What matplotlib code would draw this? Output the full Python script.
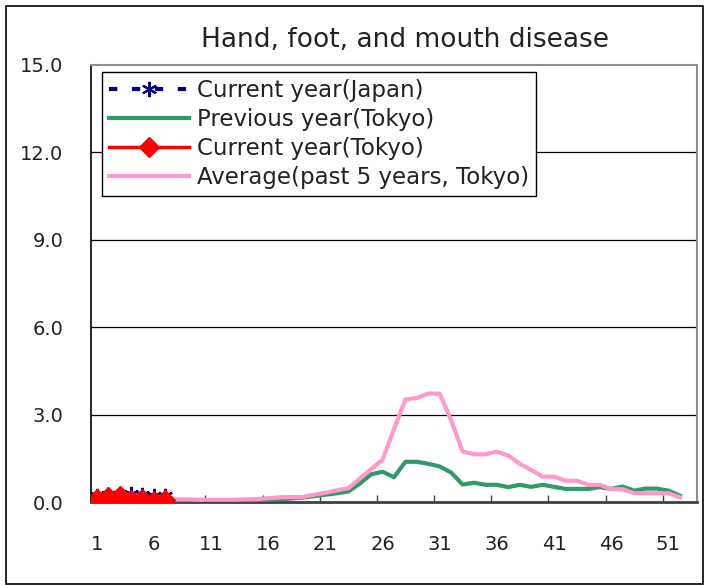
import matplotlib
matplotlib.use('Agg')
import matplotlib.pyplot as plt
from matplotlib.patches import Rectangle
import numpy as np

# weekly values (per sentinel)
weeks_all = list(range(1, 54))
tick_weeks = [1, 6, 11, 16, 21, 26, 31, 36, 41, 46, 51]

cur_japan = [0.20, 0.23, 0.25, 0.26, 0.25, 0.22, 0.20]
cur_tokyo = [0.09, 0.16, 0.21, 0.07, 0.09, 0.04, 0.07]
prev_tokyo = [0.02, 0.02, 0.02, 0.02, 0.01, 0.01, 0.01, 0.00, 0.00, 0.02,
              0.03, 0.03, 0.00, 0.02, 0.04, 0.07, 0.09, 0.12, 0.15, 0.20,
              0.25, 0.30, 0.36, 0.63, 0.95, 1.04, 0.85, 1.38, 1.38, 1.31,
              1.22, 1.01, 0.60, 0.66, 0.59, 0.59, 0.51, 0.59, 0.52, 0.59,
              0.52, 0.45, 0.45, 0.45, 0.51, 0.45, 0.53, 0.39, 0.46, 0.46,
              0.39, 0.22]
avg_tokyo = [0.10, 0.10, 0.10, 0.10, 0.10, 0.09, 0.09, 0.09, 0.09, 0.08,
             0.08, 0.08, 0.08, 0.09, 0.10, 0.13, 0.16, 0.17, 0.17, 0.25,
             0.32, 0.40, 0.47, 0.80, 1.13, 1.45, 2.50, 3.52, 3.57, 3.72,
             3.72, 2.80, 1.73, 1.64, 1.64, 1.73, 1.59, 1.31, 1.10, 0.87,
             0.87, 0.73, 0.73, 0.59, 0.59, 0.44, 0.44, 0.30, 0.30, 0.30,
             0.30, 0.16]

y_ticks = [0, 3, 6, 9, 12, 15]

NAVY = '#000080'
GREEN = '#339966'
RED = '#FF0000'
PINK = '#FF99CC'

fig = plt.figure(figsize=(7.04, 5.85), dpi=100)
ax = fig.add_axes([91/704, 1 - 502/585, (697 - 91)/704, (502 - 65)/585])

# outer chart border
fig.patches.append(Rectangle((6/704, 1/585), 697/704, 578/585, transform=fig.transFigure,
                             fill=False, edgecolor='black', linewidth=1.2))

x_prev = np.arange(1, len(prev_tokyo) + 1)
x_avg = np.arange(1, len(avg_tokyo) + 1)
x_cur = np.arange(1, len(cur_tokyo) + 1)

ax.plot(x_prev, prev_tokyo, color=GREEN, lw=3, zorder=3, label='Previous year(Tokyo)')
ax.plot(x_avg, avg_tokyo, color=PINK, lw=3, zorder=4, label='Average(past 5 years, Tokyo)')
ax.plot(x_cur, cur_japan, color=NAVY, lw=3, ls=(0, (2.0, 3.5)), marker=(6, 2, 0),
        markersize=11, markeredgewidth=1.5, zorder=5, label='Current year(Japan)')
ax.plot(x_cur, cur_tokyo, color=RED, lw=2.5, marker='D', markersize=10, zorder=6,
        label='Current year(Tokyo)')

ax.set_xlim(0.5, 53.5)
ax.set_ylim(0, 15)

# horizontal gridlines
for v in y_ticks[1:-1]:
    ax.axhline(v, color='black', lw=0.9, zorder=1)

ax.set_yticks(y_ticks)
ax.set_yticklabels([f'{v:.1f}' for v in y_ticks])
ax.tick_params(axis='y', length=0, pad=20, labelsize=14, labelcolor='#222222')

ax.set_xticks(tick_weeks)
ax.set_xticklabels([str(w) for w in tick_weeks])
ax.tick_params(axis='x', which='major', length=0, pad=24, labelsize=14, labelcolor='#222222')
ax.set_xticks(np.arange(5.5, 53, 5), minor=True)
ax.tick_params(axis='x', which='minor', direction='in', length=5, width=1, color='#404040')

ax.spines['left'].set_color('black')
ax.spines['left'].set_linewidth(1.2)
ax.spines['bottom'].set_color('#404040')
ax.spines['bottom'].set_linewidth(2)
ax.spines['top'].set_color('#909090')
ax.spines['top'].set_linewidth(1.5)
ax.spines['right'].set_color('#909090')
ax.spines['right'].set_linewidth(1.5)

fig.text(405/704, 1 - 40/585, 'Hand, foot, and mouth disease', ha='center', va='center',
         fontsize=19, color='#222222')

handles, labels = ax.get_legend_handles_labels()
order = [2, 0, 3, 1]
leg = ax.legend([handles[i] for i in order], [labels[i] for i in order],
                loc='upper left', bbox_to_anchor=(0.0177, 0.984), fontsize=16.5,
                handlelength=3.5, handletextpad=0.35, labelspacing=0.27,
                borderpad=0.3, borderaxespad=0, fancybox=False, framealpha=1)
leg.get_frame().set_edgecolor('black')
leg.get_frame().set_linewidth(1)
for t in leg.get_texts():
    t.set_color('#222222')

fig.savefig('out.png', dpi=100)
